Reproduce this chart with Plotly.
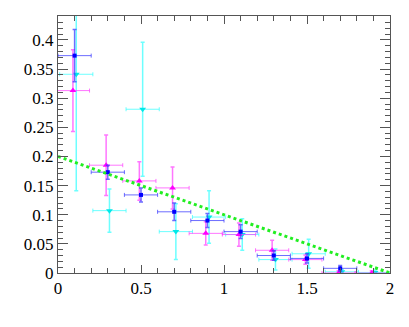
import plotly.graph_objects as go

# blue squares
blue_x = [0.1, 0.3, 0.5, 0.7, 0.9, 1.1, 1.3, 1.5, 1.7]
blue_y = [0.373, 0.173, 0.134, 0.105, 0.090, 0.071, 0.030, 0.025, 0.008]
blue_ey = [0.045, 0.012, 0.012, 0.015, 0.012, 0.012, 0.008, 0.008, 0.005]

# magenta triangles (up)
mag_x = [0.09, 0.29, 0.49, 0.69, 0.89, 1.09, 1.29, 1.49, 1.69, 1.89]
mag_y = [0.313, 0.185, 0.158, 0.146, 0.068, 0.066, 0.039, 0.023, 0.0, 0.0]
mag_ey = [0.07, 0.052, 0.033, 0.036, 0.02, 0.02, 0.017, 0.008, 0.004, 0.004]

# cyan triangles (down)
cyan_x = [0.11, 0.31, 0.51, 0.71, 0.91, 1.11, 1.31, 1.51, 1.71, 1.91]
cyan_y = [0.341, 0.107, 0.281, 0.071, 0.096, 0.066, 0.023, 0.033, 0.002, 0.001]
cyan_ey = [0.2, 0.037, 0.115, 0.048, 0.045, 0.027, 0.018, 0.025, 0.004, 0.004]

x_half = 0.1  # bin half width

# green fit line
fit_x = [0.0, 2.0]
fit_y = [0.2, 0.0]

SERIF = "Liberation Serif"

fig = go.Figure()


def add_series(xs, ys, eys, col, bar_col, symbol, size):
    fig.add_trace(go.Scatter(
        x=xs, y=ys, mode="markers",
        marker=dict(symbol=symbol, size=size, color=col),
        error_y=dict(type="data", array=eys, color=bar_col, thickness=1.5, width=2),
        error_x=dict(type="data", array=[x_half] * len(xs), color=bar_col, thickness=1, width=2),
        showlegend=False,
    ))


add_series(cyan_x, cyan_y, cyan_ey, "#00e8e8", "rgba(60,255,255,0.75)", "triangle-down", 6)
add_series(mag_x, mag_y, mag_ey, "#ff00ff", "rgba(255,60,255,0.7)", "triangle-up", 6)
add_series(blue_x, blue_y, blue_ey, "#0000ff", "rgba(60,60,255,0.75)", "square", 4)

fig.add_trace(go.Scatter(
    x=fit_x, y=fit_y, mode="lines",
    line=dict(color="#22ee22", width=3, dash="dot"),
    showlegend=False,
))

axis_common = dict(
    showgrid=False, zeroline=False, automargin=False,
    showline=True, linecolor="#555555", linewidth=1, mirror="ticks",
    ticks="inside", tickcolor="#555555",
)

fig.update_xaxes(
    range=[0, 2], tickvals=[0, 0.5, 1, 1.5, 2], ticktext=["0", "0.5", "1", "1.5", "2"],
    ticklen=8, minor=dict(dtick=0.1, ticks="inside", ticklen=5, tickcolor="#555555"),
    **axis_common,
)
fig.update_yaxes(
    range=[0, 0.441], tickvals=[0, 0.05, 0.1, 0.15, 0.2, 0.25, 0.3, 0.35, 0.4],
    ticktext=["0", "0.05", "0.1", "0.15", "0.2", "0.25", "0.3", "0.35", "0.4"],
    ticklen=10, minor=dict(dtick=0.01, ticks="inside", ticklen=5, tickcolor="#555555"),
    **axis_common,
)

# page body has an 8px margin, so the figure is a bit smaller than the window
fig.update_layout(
    width=401, height=319,
    margin=dict(l=50, r=19, t=8, b=54),
    plot_bgcolor="white", paper_bgcolor="white",
    font=dict(family=SERIF, size=17, color="black"),
)

fig.write_html("out.html")
